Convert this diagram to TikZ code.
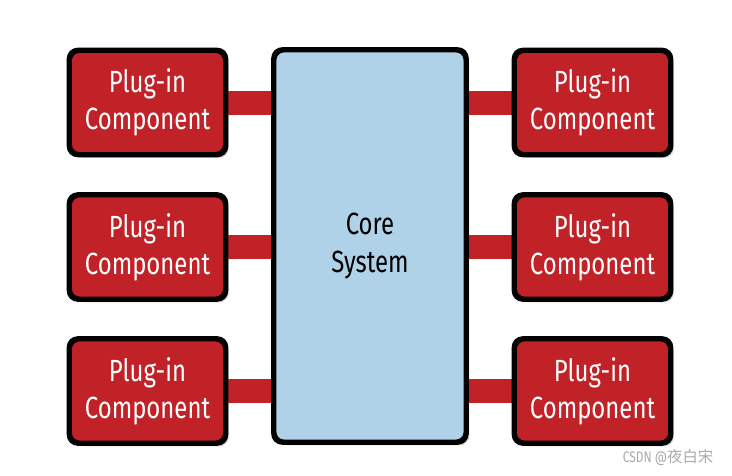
\documentclass[tikz,border=0pt]{standalone}
\usepackage{fontspec}
\setmainfont{Fira Sans}[FakeStretch=0.78]
\newfontfamily\cjkfont{Noto Sans CJK SC}
\usetikzlibrary{shadows}

\definecolor{plugred}{RGB}{192,34,40}
\definecolor{coreblue}{RGB}{176,210,232}
\definecolor{markgray}{RGB}{170,170,170}

\tikzset{
  box/.style={rectangle, rounded corners=7pt, draw=black, line width=2.6pt, align=center,
    font=\fontsize{23}{28}\selectfont,
    drop shadow={opacity=0.3, shadow xshift=3pt, shadow yshift=-3pt}},
  plugin/.style={box, fill=plugred, text=white, minimum width=116pt, minimum height=77pt},
  core/.style={box, fill=coreblue, text=black, minimum width=143pt, minimum height=293pt},
  bar/.style={draw=plugred, line width=18pt},
  rim/.style={line width=2.6pt, rounded corners=7pt}
}

\begin{document}
\begin{tikzpicture}[x=0.75pt,y=0.75pt,yscale=-1,xscale=1]
\useasboundingbox (0,0) rectangle (732,475);

% Core
\node [core] (core) at (370,246) {Core\\System};

% Plug-ins, left
\node [plugin] (pl1) at (147.5,102.5) {Plug-in\\Component};
\node [plugin] (pl2) at (147.5,247) {Plug-in\\Component};
\node [plugin] (pl3) at (147.5,391) {Plug-in\\Component};
% Plug-ins, right
\node [plugin] (pr1) at (592.5,102.5) {Plug-in\\Component};
\node [plugin] (pr2) at (592.5,247) {Plug-in\\Component};
\node [plugin] (pr3) at (592.5,391) {Plug-in\\Component};

% Bars
\foreach \p in {pl1,pl2,pl3}
  \draw [bar] (\p.east) -- (\p.east -| core.west);
\foreach \p in {pr1,pr2,pr3}
  \draw [bar] (\p.west) -- (\p.west -| core.east);

% borders again, over the bars
\foreach \p in {pl1,pl2,pl3,pr1,pr2,pr3,core}
  \draw [rim] (\p.south west) rectangle (\p.north east);

% Text Node
\node [text=markgray, font=\fontsize{11.5}{13}\selectfont] (mark) at (668,458) {CSDN @{\cjkfont 夜白宋}};

\end{tikzpicture}
\end{document}
